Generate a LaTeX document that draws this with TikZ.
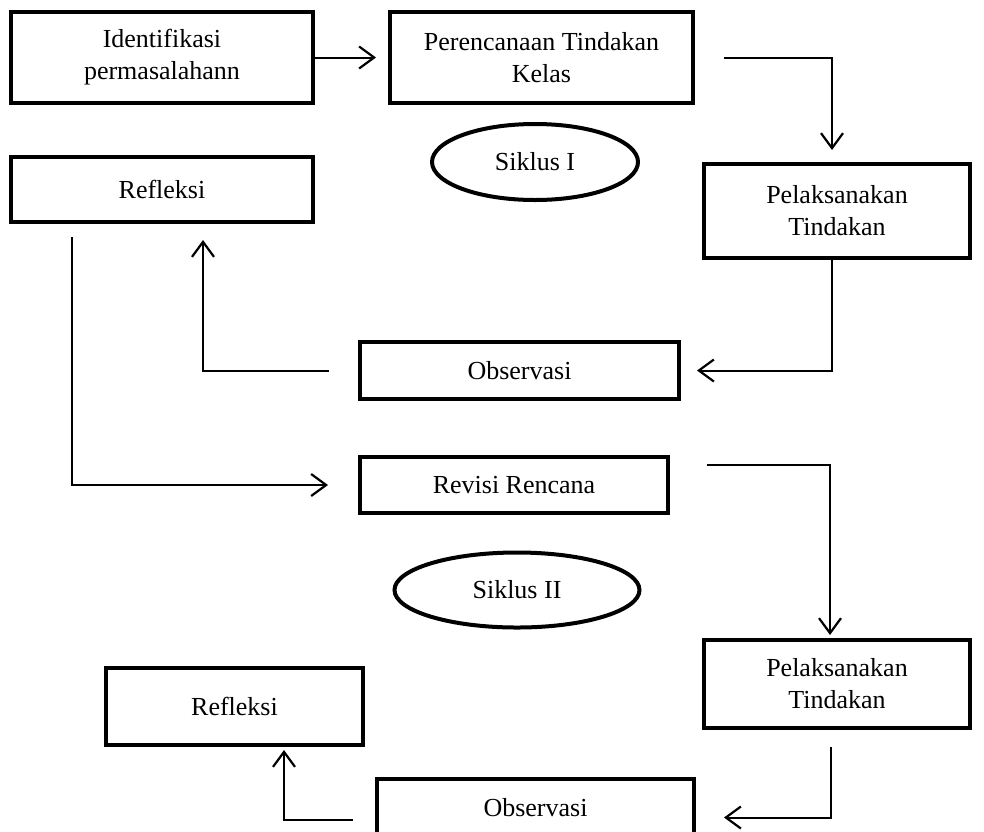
\documentclass[tikz,border=0pt]{standalone}
\usepackage{fontspec}
\setmainfont{Liberation Serif}
\usetikzlibrary{arrows.meta}
\usetikzlibrary{shapes.geometric}

\begin{document}
\begin{tikzpicture}[x=1pt, y=-1pt]
				\useasboundingbox (0,0) rectangle (984,831);
				\clip (0,0) rectangle (984,831);
				\begin{scope}[every node/.style = {rectangle, draw, line width=4pt,
						align=center, inner sep=0pt, font=\fontsize{26}{32}\selectfont}]
					\node[minimum width=302pt, minimum height=91pt] (ident) at (162,57.5) {Identifikasi\\permasalahann};
					\node[minimum width=303pt, minimum height=91pt] (plan) at (541.5,57.5) {Perencanaan Tindakan\\Kelas};
					\node[minimum width=302pt, minimum height=65pt] (refl1) at (162,189.5) {Refleksi};
					\node[minimum width=266pt, minimum height=94pt] (act1) at (837,211) {Pelaksanakan\\Tindakan};
					\node[minimum width=319pt, minimum height=57pt] (obs1) at (519.5,370.5) {Observasi};
					\node[minimum width=308pt, minimum height=56pt] (rev) at (514,485) {Revisi Rencana};
					\node[minimum width=266pt, minimum height=88pt] (act2) at (837,684) {Pelaksanakan\\Tindakan};
					\node[minimum width=257pt, minimum height=77pt] (refl2) at (234.5,706.5) {Refleksi};
					\node[minimum width=317pt, minimum height=57pt] (obs2) at (535.5,807.5) {Observasi};
				\end{scope}
				\begin{scope}[every node/.style = {ellipse, draw, line width=4pt,
						inner sep=0pt, font=\fontsize{26}{32}\selectfont}]
					\node[minimum width=206pt, minimum height=76pt] (sik1) at (535,162) {Siklus I};
					\node[minimum width=245pt, minimum height=75pt] (sik2) at (517,590) {Siklus II};
				\end{scope}
				\begin{scope}[>={Straight Barb[length=15pt, width=22pt, line width=2.2pt]},
						line width=2pt]
					\draw [->, shorten >=12pt] (ident) -- (plan);
					\draw [->, shorten <=29pt, shorten >=12pt] (plan.east) -| ([xshift=-5pt]act1.north);
					\draw [->, shorten >=16pt] ([xshift=-5pt]act1.south) |- (obs1.east);
					\draw [->, shorten <=29pt, shorten >=16pt] (obs1.west) -| ([xshift=41pt]refl1.south);
					\draw [->, shorten <=13pt, shorten >=30pt] ([xshift=-90pt]refl1.south) |- (rev.west);
					\draw [->, shorten <=37pt, shorten >=3pt] ([yshift=20pt]rev.east) -| ([xshift=-7pt]act2.north);
					\draw [->, shorten <=17pt, shorten >=28pt] ([xshift=-6pt]act2.south) |- ([yshift=-10pt]obs2.east);
					\draw [->, shorten <=22pt, shorten >=3pt] ([yshift=-12pt]obs2.west) -| ([xshift=49.5pt]refl2.south);
				\end{scope}
			\end{tikzpicture}
\end{document}
